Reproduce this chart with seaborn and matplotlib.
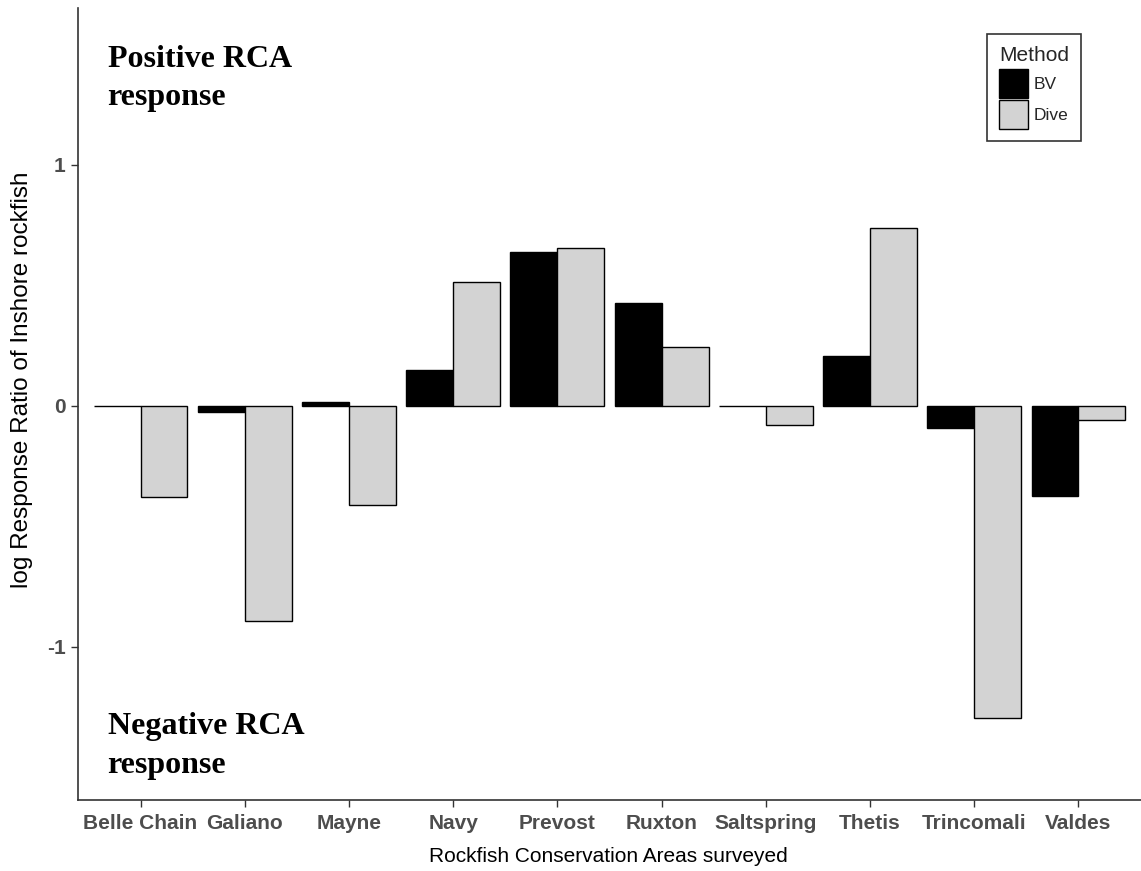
import matplotlib
matplotlib.use("Agg")
import matplotlib.pyplot as plt
import seaborn as sns
import pandas as pd
from matplotlib.patches import Patch

# ---- data ----
sites = ["Belle Chain", "Galiano", "Mayne", "Navy", "Prevost", "Ruxton",
         "Saltspring", "Thetis", "Trincomali", "Valdes"]
methods = ["BV", "Dive"]
bv_values = [0.0, -0.026, 0.018, 0.15, 0.64, 0.428, 0.0, 0.208, -0.093, -0.374]
dive_values = [-0.378, -0.894, -0.41, 0.516, 0.657, 0.245, -0.079, 0.74, -1.293, -0.058]
y_ticks = [-1, 0, 1]
y_tick_labels = ["-1", "0", "1"]

df = pd.DataFrame({
    "site": sites * 2,
    "method": ["BV"] * len(sites) + ["Dive"] * len(sites),
    "value": bv_values + dive_values,
})

sns.set_theme(style="white")
plt.rcParams["font.family"] = ["Liberation Sans", "DejaVu Sans"]

W, H = 1141, 871
fig = plt.figure(figsize=(W / 100, H / 100), dpi=100)
ax = fig.add_axes([78 / W, 1 - 800 / H, 1 - 78 / W, (800 - 8) / H])

palette = {"BV": "black", "Dive": "#D3D3D3"}
sns.barplot(data=df, x="site", y="value", hue="method", order=sites,
            hue_order=methods, palette=palette, width=0.9, saturation=1,
            edgecolor="black", linewidth=1.0, errorbar=None, legend=False, ax=ax)

ax.set_xlim(-0.6, len(sites) - 0.4)
ax.set_ylim(-1.635, 1.651)
ax.set_yticks(y_ticks)
ax.set_yticklabels(y_tick_labels)

for s in ["top", "right"]:
    ax.spines[s].set_visible(False)
for s in ["left", "bottom"]:
    ax.spines[s].set_color("#333333")
    ax.spines[s].set_linewidth(1.2)

ax.tick_params(axis="both", which="both", length=5, width=1.0, color="#333333",
               labelcolor="#4D4D4D", bottom=True, left=True)
ax.tick_params(axis="x", labelsize=15, pad=5)
ax.tick_params(axis="y", labelsize=15, pad=3.8)
for lab in ax.get_xticklabels() + ax.get_yticklabels():
    lab.set_fontweight("bold")

ax.set_xlabel("Rockfish Conservation Areas surveyed", fontsize=15, color="black")
ax.set_ylabel("log Response Ratio of Inshore rockfish", fontsize=17.5, color="black")
ax.xaxis.set_label_coords(0.499, (800 - 847) / 792)
ax.yaxis.set_label_coords((33 - 78) / 1063, (800 - 380) / 792)

serif = ["Liberation Serif", "DejaVu Serif"]
ax.text(-0.316, 1.498, "Positive RCA\nresponse", family=serif, fontweight="bold",
        fontsize=23, va="top", ha="left", linespacing=1.4, color="black")
ax.text(-0.316, -1.27, "Negative RCA\nresponse", family=serif, fontweight="bold",
        fontsize=23, va="top", ha="left", linespacing=1.45, color="black")

handles = [Patch(facecolor=palette[m], edgecolor="black", linewidth=1.0) for m in methods]
leg = ax.legend(handles, methods, title="Method", loc="upper right",
                bbox_to_anchor=(1081 / W, 1 - 34 / H), bbox_transform=fig.transFigure,
                borderaxespad=0, fontsize=12.5, title_fontsize=15, frameon=True,
                fancybox=False, framealpha=1, edgecolor="#333333",
                handlelength=1.67, handleheight=2.19, labelspacing=0.12,
                handletextpad=0.3, borderpad=0.69, alignment="left")
leg.get_frame().set_linewidth(1.2)
# slightly larger gap between the legend title and its keys
leg._legend_box.sep = 3.2

fig.savefig("out.png", dpi=100)
